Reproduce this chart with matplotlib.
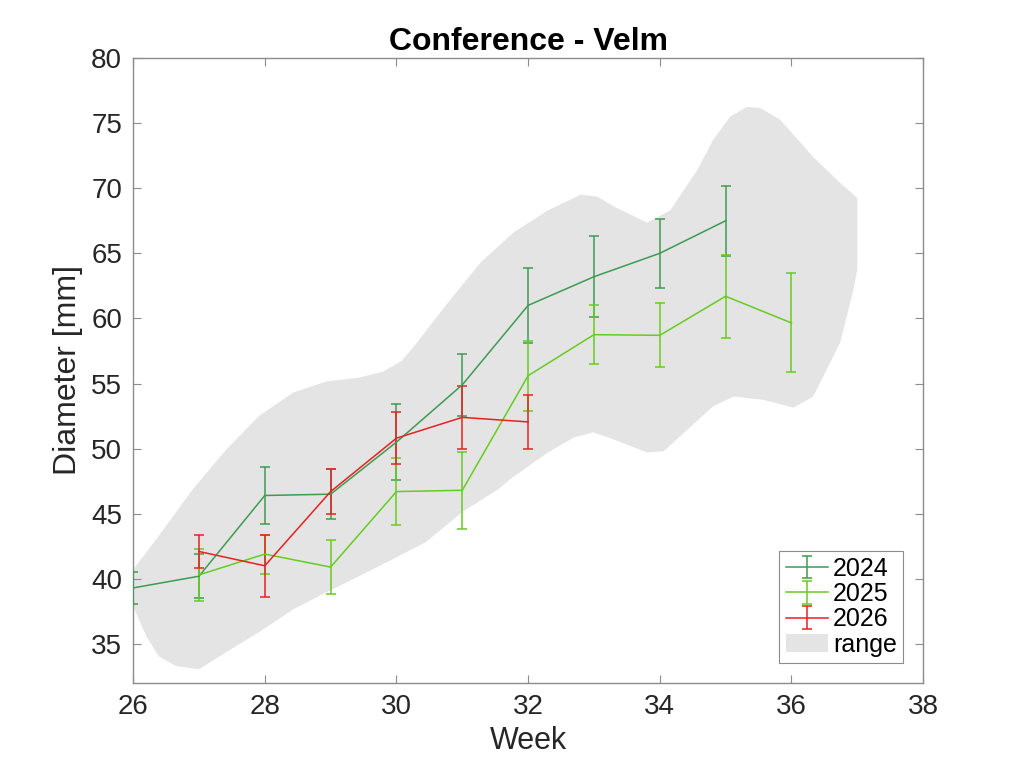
import numpy as np
import matplotlib
matplotlib.use('Agg')
import matplotlib.pyplot as plt
from matplotlib.legend_handler import HandlerErrorbar

plt.rcParams['font.family'] = ['Liberation Sans', 'DejaVu Sans']

# --- data ---
weeks_2024 = [26, 27, 28, 29, 30, 31, 32, 33, 34, 35]
mean_2024 = [39.3, 40.2, 46.4, 46.5, 50.5, 54.9, 61.0, 63.2, 65.0, 67.5]
err_2024 = [1.2, 1.7, 2.2, 1.9, 2.9, 2.4, 2.9, 3.1, 2.65, 2.7]

weeks_2025 = [27, 28, 29, 30, 31, 32, 33, 34, 35, 36]
mean_2025 = [40.3, 41.9, 40.9, 46.7, 46.8, 55.6, 58.75, 58.7, 61.7, 59.65]
err_2025 = [2.0, 1.5, 2.1, 2.6, 2.95, 2.7, 2.25, 2.45, 3.2, 3.8]

weeks_2026 = [27, 28, 29, 30, 31, 32]
mean_2026 = [42.1, 41.0, 46.7, 50.8, 52.4, 52.05]
err_2026 = [1.3, 2.4, 1.7, 2.0, 2.4, 2.05]

# outline of the historic range band (upper edge left->right, lower edge right->left)
range_upper_w = [26.0, 26.39, 26.91, 27.41, 27.91, 28.43, 28.93, 29.43, 29.79, 30.07,
                 30.26, 30.78, 31.28, 31.78, 32.30, 32.80, 33.05, 33.30, 33.81, 34.16,
                 34.57, 34.81, 35.07, 35.33, 35.53, 35.83, 36.33, 36.74, 37.0]
range_upper_v = [40.7, 43.3, 46.9, 49.9, 52.5, 54.3, 55.15, 55.45, 55.9, 56.7,
                 57.8, 61.2, 64.3, 66.6, 68.3, 69.5, 69.35, 68.6, 67.35, 68.3,
                 71.4, 73.7, 75.5, 76.25, 76.15, 75.25, 72.4, 70.4, 69.25]
range_lower_w = [37.0, 36.94, 36.74, 36.33, 36.03, 35.57, 35.12, 34.81, 34.31, 34.06,
                 33.81, 33.30, 32.99, 32.69, 32.30, 31.78, 31.54, 31.02, 30.44, 29.94,
                 29.43, 28.93, 28.43, 27.91, 27.41, 27.0, 26.65, 26.39, 26.20, 26.0]
range_lower_v = [63.75, 62.2, 58.15, 54.0, 53.15, 53.75, 54.0, 53.25, 50.95, 49.8,
                 49.7, 50.7, 51.25, 50.85, 49.7, 47.85, 46.85, 45.2, 42.8, 41.5,
                 40.2, 38.95, 37.65, 35.9, 34.35, 33.05, 33.3, 34.05, 35.6, 37.9]

C2024 = '#3E9B52'
C2025 = '#66CC1F'
C2026 = '#E8211E'
GREY = '#E4E4E4'
AXC = '#8C8C8C'

fig = plt.figure(figsize=(10.24, 7.68), dpi=100)
ax = fig.add_axes([0.13, 0.1107, 0.7715, 0.8138])

ax.fill(range_upper_w + range_lower_w, range_upper_v + range_lower_v,
        color=GREY, linewidth=0, label='range', zorder=1)

ebkw = dict(linewidth=1.1, elinewidth=1.1, capsize=3.5, capthick=1.1, zorder=3)
ax.errorbar(weeks_2024, mean_2024, yerr=err_2024, color=C2024, label='2024', **ebkw)
ax.errorbar(weeks_2025, mean_2025, yerr=err_2025, color=C2025, label='2025', **ebkw)
ax.errorbar(weeks_2026, mean_2026, yerr=err_2026, color=C2026, label='2026', **ebkw)

ax.set_xlim(26, 38)
ax.set_ylim(32, 80)
ax.set_xticks(np.arange(26, 39, 2))
ax.set_yticks(np.arange(35, 81, 5))
ax.tick_params(direction='in', length=6, width=0.8, color=AXC, labelsize=20,
               top=True, right=True, labelcolor='#262626', pad=8)
for sp in ax.spines.values():
    sp.set_color(AXC)
    sp.set_linewidth(1.0)

ax.set_xlabel('Week', fontsize=22, color='#262626', labelpad=4)
ax.set_ylabel('Diameter [mm]', fontsize=23, color='#262626', labelpad=6)
ax.set_title('Conference - Velm', fontsize=23, fontweight='bold', color='#000000', pad=6)

handles, labels = ax.get_legend_handles_labels()
order = [labels.index(k) for k in ['2024', '2025', '2026', 'range']]
leg = ax.legend([handles[i] for i in order], [labels[i] for i in order],
                loc='lower right', fontsize=18, fancybox=False, framealpha=1,
                edgecolor=AXC, borderpad=0.25, labelspacing=0.05, handlelength=1.7,
                handletextpad=0.2, borderaxespad=0.8,
                handler_map={type(handles[order[0]]): HandlerErrorbar(yerr_size=0.45)})
leg.get_frame().set_linewidth(0.8)

fig.savefig('out.png', dpi=100)
